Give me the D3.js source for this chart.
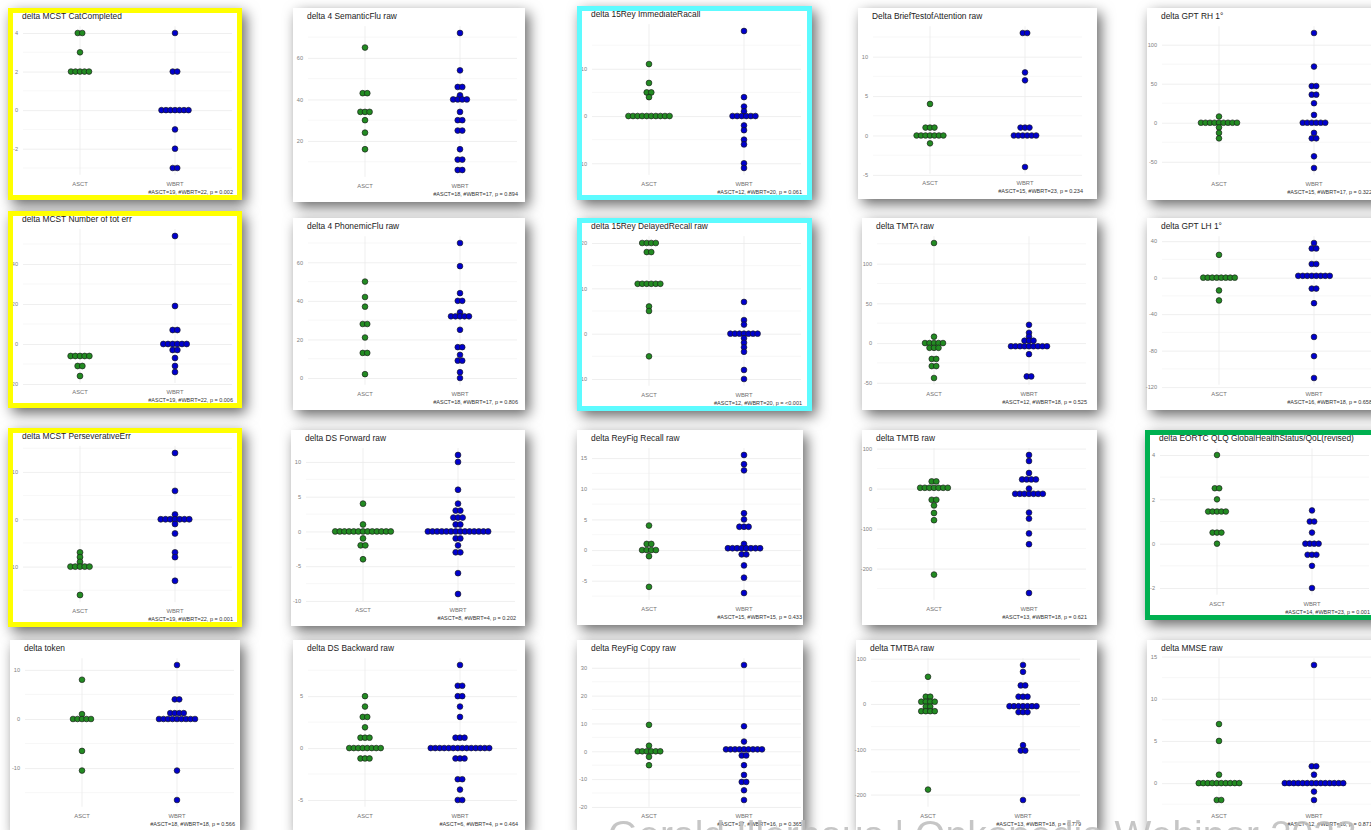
<!DOCTYPE html>
<html>
<head>
<meta charset="utf-8">
<script src="https://cdn.jsdelivr.net/npm/d3@7"></script>
<style>
  body { margin: 0; background: #ffffff; }
  svg { display: block; font-family: "Liberation Sans", Arial, sans-serif; }
</style>
</head>
<body>
<svg id="board" width="1371" height="830"></svg>
<script>
// ---- data -------------------------------------------------------------
const groups = ["ASCT", "WBRT"];

const titles = [
  "delta MCST CatCompleted", "delta 4 SemanticFlu raw", "delta 15Rey ImmediateRacall", "Delta BriefTestofAttention raw", "delta GPT RH 1°",
  "delta MCST Number of tot err", "delta 4 PhonemicFlu raw", "delta 15Rey DelayedRecall raw", "delta TMTA raw", "delta GPT LH 1°",
  "delta MCST PerseverativeErr", "delta DS Forward raw", "delta ReyFig Recall raw", "delta TMTB raw", "delta EORTC QLQ GlobalHealthStatus/QoL(revised)",
  "delta token", "delta DS Backward raw", "delta ReyFig Copy raw", "delta TMTBA raw", "delta MMSE raw"
];

const notes = [
  "#ASCT=19, #WBRT=22, p = 0.002", "#ASCT=18, #WBRT=17, p = 0.894", "#ASCT=12, #WBRT=20, p = 0.061", "#ASCT=15, #WBRT=23, p = 0.234", "#ASCT=15, #WBRT=17, p = 0.322",
  "#ASCT=19, #WBRT=22, p = 0.006", "#ASCT=18, #WBRT=17, p = 0.806", "#ASCT=12, #WBRT=20, p = <0.001", "#ASCT=12, #WBRT=18, p = 0.525", "#ASCT=16, #WBRT=18, p = 0.658",
  "#ASCT=19, #WBRT=22, p = 0.001", "#ASCT=8, #WBRT=4, p = 0.202", "#ASCT=15, #WBRT=15, p = 0.433", "#ASCT=13, #WBRT=18, p = 0.621", "#ASCT=14, #WBRT=23, p = 0.001",
  "#ASCT=18, #WBRT=18, p = 0.566", "#ASCT=6, #WBRT=4, p = 0.464", "#ASCT=17, #WBRT=16, p = 0.365", "#ASCT=13, #WBRT=18, p = 0.779", "#ASCT=12, #WBRT=16, p = 0.871"
];

const yTicks = [
  [-2, 0, 2, 4], [20, 40, 60], [-10, 0, 10], [-5, 0, 5, 10], [-50, 0, 50, 100],
  [-20, 0, 20, 40], [0, 20, 40, 60], [-10, 0, 10, 20], [-50, 0, 50, 100], [-120, -80, -40, 0, 40],
  [-10, 0, 10], [-10, -5, 0, 5, 10], [-5, 0, 5, 10, 15], [-200, -100, 0, 100], [-2, 0, 2, 4],
  [-10, 0, 10], [-5, 0, 5], [-20, -10, 0, 10, 20, 30], [-200, -100, 0, 100], [0, 5, 10, 15]
];

const asctValues = [
  [4, 4, 3, 2, 2, 2, 2, 2],
  [65, 43, 43, 34, 34, 34, 30, 24, 16],
  [11, 7, 5, 5, 4, 0, 0, 0, 0, 0, 0, 0, 0, 0, 0],
  [4, 1, 1, 1, 0, 0, 0, 0, 0, 0, 0, -1],
  [8, 0, 0, 0, 0, 0, 0, 0, 0, 0, -6, -13, -20],
  [-6, -6, -6, -6, -6, -11, -11, -16],
  [50, 42, 37, 28, 28, 21, 13, 13, 2],
  [20, 20, 20, 20, 18, 18, 11, 11, 11, 11, 11, 11, 6, 5, -5],
  [126, 8, 0, 0, 0, 0, 0, -6, -6, -6, -20, -20, -29, -29, -44],
  [25, 0, 0, 0, 0, 0, 0, 0, 0, -14, -25],
  [-7, -8, -9, -10, -10, -10, -10, -10, -16],
  [4, 1, 0, 0, 0, 0, 0, 0, 0, 0, 0, 0, 0, 0, 0, -1, -2, -2, -4],
  [4, 1, 1, 0, 0, 0, 0, -1, -6],
  [18, 18, 2, 2, 2, 2, 2, 2, 2, -28, -28, -42, -61, -79, -215],
  [4, 2.5, 2.5, 2, 1.45, 1.45, 1.45, 1.45, 1.45, 0.5, 0.5, 0.5, 0],
  [8, 1, 0, 0, 0, 0, 0, -6.5, -10.5],
  [5, 4, 3, 3, 2, 1, 1, 1, 0, 0, 0, 0, 0, 0, 0, 0, -1, -1, -1],
  [9.5, 2, 0, 0, 0, 0, 0, 0, -2, -5],
  [60, 16, 16, 5, 5, 5, 5, -6, -6, -16, -16, -16, -16, -189],
  [7, 5, 1, 0, 0, 0, 0, 0, 0, 0, 0, 0, 0, -2, -2]
];

const wbrtValues = [
  [4, 2, 2, 0, 0, 0, 0, 0, 0, 0, -1, -2, -3, -3],
  [72, 54, 46, 46, 42, 40, 40, 40, 40, 34, 30, 30, 25, 25, 16, 11, 11, 6, 6],
  [18, 4, 2, 1, 0, 0, 0, 0, 0, 0, -2, -3, -5, -6, -10, -11],
  [13, 13, 8, 7, 1, 1, 1, 0, 0, 0, 0, 0, 0, -4],
  [115, 72, 47, 47, 36, 36, 25, 10, 0, 0, 0, 0, 0, 0, -13, -20, -20, -43, -58],
  [54, 19, 7, 7, 0, 0, 0, 0, 0, 0, -3, -3, -7, -11, -14],
  [70, 58, 44, 40, 40, 34, 32, 32, 32, 32, 32, 25, 16, 16, 12, 9, 9, 3, 0],
  [7, 3, 2, 0, 0, 0, 0, 0, 0, 0, -1, -2, -3, -4, -8, -10],
  [23, 13, 8, 3, 3, 3, -4, -4, -4, -4, -4, -4, -4, -4, -4, -14, -42, -42],
  [38, 32, 32, 15, 15, 2, 2, 2, 2, 2, 2, 2, 2, -12, -12, -28, -65, -86, -110],
  [14, 6, 1, 0, 0, 0, 0, 0, 0, 0, -1, -3, -7, -8, -13],
  [11, 10, 6, 4, 3, 3, 2, 2, 2, 1, 1, 0, 0, 0, 0, 0, 0, 0, 0, 0, 0, 0, 0, 0, 0, -1, -1, -2, -3, -3, -6, -9],
  [15.5, 14, 13, 6, 5, 3.8, 3.8, 3.8, 1, 0.3, 0.3, 0.3, 0.3, 0.3, 0.3, 0.3, 0.3, -0.7, -0.7, -2.5, -4.5, -7],
  [84, 69, 39, 23, 23, 23, 23, 0, -13, -13, -13, -13, -13, -13, -13, -60, -75, -112, -139, -261],
  [1.5, 1, 1, 0.5, 0, 0, 0, 0, -0.5, -0.5, -0.5, -1, -2],
  [11, 4, 4, 1.2, 1.2, 1.2, 1.2, 0, 0, 0, 0, 0, 0, 0, 0, 0, -10.5, -16.5],
  [8, 6, 6, 5, 5, 4, 3, 1, 1, 1, 0, 0, 0, 0, 0, 0, 0, 0, 0, 0, 0, 0, 0, 0, -1, -1, -1, -3, -3, -4, -5, -5],
  [31, 9, 3.5, 0.7, 0.7, 0.7, 0.7, 0.7, 0.7, 0.7, 0.7, 0.7, -1.5, -1.5, -5, -8.5, -11, -11, -14, -17.5],
  [86, 71, 41, 41, 16, 16, 16, -5, -5, -5, -5, -5, -5, -5, -18, -18, -18, -91, -103, -103, -212],
  [14, 2, 2, 1, 0, 0, 0, 0, 0, 0, 0, 0, 0, 0, 0, 0, 0, 0, -1, -2]
];

// frame colour of emphasised panels (null = plain card)
const frames = [
  "#ffff00", null, "#5dfbff", null, null,
  "#ffff00", null, "#5dfbff", null, null,
  "#ffff00", null, null, null, "#00b050",
  null, null, null, null, null
];

const groupColors = { ASCT: "#228b22", WBRT: "#0000cd" };

// ---- card placement: [x, y, width, height] --------------------------------
const layout = [
  [8, 8, 234, 192], [293, 8, 232, 194], [577, 6, 235, 194], [858, 8, 239, 191], [1147, 8, 240, 192],
  [8, 211, 234, 197], [293, 218, 232, 192], [577, 218, 235, 193], [862, 218, 235, 192], [1147, 218, 240, 192],
  [8, 428, 234, 199], [291, 430, 234, 196], [577, 430, 226, 195], [862, 430, 235, 195], [1145, 430, 240, 190],
  [10, 640, 230, 192], [293, 640, 232, 192], [577, 640, 226, 192], [856, 640, 241, 192], [1147, 640, 240, 192]
];

const svg = d3.select("#board");
const defs = svg.append("defs");
const shadow = defs.append("filter").attr("id", "cardShadow")
  .attr("x", "-20%").attr("y", "-20%").attr("width", "150%").attr("height", "150%");
shadow.append("feDropShadow")
  .attr("dx", 4).attr("dy", 5).attr("stdDeviation", 7)
  .attr("flood-color", "#000").attr("flood-opacity", 0.6);

const FONT = "'Liberation Sans', Arial, sans-serif";

titles.forEach((title, i) => {
  const [px, py, pw, ph] = layout[i];
  const g = svg.append("g").attr("transform", `translate(${px},${py})`);

  g.append("rect").attr("width", pw).attr("height", ph)
    .attr("fill", "#fff").attr("filter", "url(#cardShadow)");

  // vertical extent of the dot cloud, then 5% expansion like ggplot
  const dotTop = 25, dotBot = ph - 32;
  const span = dotBot - dotTop;
  const all = asctValues[i].concat(wbrtValues[i]);
  const lo = d3.min(all), hi = d3.max(all);
  const ext = (hi - lo) * 0.05;
  const y = d3.scaleLinear()
    .domain([lo - ext, hi + ext])
    .range([dotBot + span * 0.05, dotTop - span * 0.05]);
  const x = d3.scalePoint().domain(groups).range([15, 224]).padding(0.6);
  const [plotBot, plotTop] = y.range();

  // minor horizontal grid
  const t = yTicks[i];
  const step = t[1] - t[0];
  const [d0, d1] = y.domain();
  const minor = d3.range(t[0] - step / 2, t[t.length - 1] + step, step)
    .filter(v => v >= d0 && v <= d1);
  g.append("g").selectAll("line").data(minor).join("line")
    .attr("x1", 15).attr("x2", 224)
    .attr("y1", d => y(d)).attr("y2", d => y(d))
    .attr("stroke", "#f2f2f2").attr("stroke-width", 0.6);

  // major grid + tick labels
  const ax = g.append("g").attr("transform", "translate(15,0)")
    .call(d3.axisLeft(y).tickValues(t).tickSize(-209).tickPadding(5).tickFormat(d => String(d)));
  ax.select(".domain").remove();
  ax.selectAll("line").attr("stroke", "#ebebeb").attr("stroke-width", 0.8);
  ax.selectAll("text").attr("font-size", 5.6).attr("fill", "#808080").attr("font-family", FONT);

  // vertical grid at each group
  g.append("g").selectAll("line").data(groups).join("line")
    .attr("x1", d => x(d)).attr("x2", d => x(d))
    .attr("y1", plotTop).attr("y2", plotBot)
    .attr("stroke", "#ebebeb").attr("stroke-width", 0.8);

  // group labels
  g.append("g").selectAll("text").data(groups).join("text")
    .attr("x", d => x(d)).attr("y", ph - 14)
    .attr("text-anchor", "middle").attr("font-size", 5.8)
    .attr("fill", "#707070").attr("font-family", FONT)
    .text(d => d);

  // dots: identical values stack side by side, centred on the group
  const diam = span / 30;
  const r = diam / 2 + 0.6;
  const series = { ASCT: asctValues[i], WBRT: wbrtValues[i] };
  const dots = [];
  groups.forEach(grp => {
    const bins = d3.rollups(series[grp], v => v.length, v => v);
    bins.forEach(([val, n]) => {
      for (let k = 0; k < n; k++) {
        dots.push({ grp, val, off: (k - (n - 1) / 2) * diam });
      }
    });
  });
  g.append("g").selectAll("circle").data(dots).join("circle")
    .attr("cx", d => x(d.grp) + d.off)
    .attr("cy", d => y(d.val))
    .attr("r", r)
    .attr("fill", d => groupColors[d.grp])
    .attr("stroke", "#1b1b1b").attr("stroke-width", 0.65);

  // title and test note
  g.append("text").attr("x", 14).attr("y", 11)
    .attr("font-size", 8.4).attr("fill", "#222").attr("font-family", FONT)
    .text(title);
  g.append("text").attr("x", 225).attr("y", ph - 6)
    .attr("text-anchor", "end").attr("font-size", 5.5)
    .attr("fill", "#333").attr("font-family", FONT)
    .text(notes[i]);

  if (frames[i]) {
    g.append("rect").attr("x", 2.5).attr("y", 2.5)
      .attr("width", pw - 5).attr("height", ph - 5)
      .attr("fill", "none").attr("stroke", frames[i]).attr("stroke-width", 5);
  }
});

// presenter credit running along the bottom edge
svg.append("text")
  .attr("x", 608).attr("y", 848)
  .attr("font-size", 39).attr("font-family", FONT)
  .attr("fill", "#bdbdbd").attr("opacity", 0.85)
  .text("Gerald Illerhaus | Onkopedia Webinar 2023");
</script>
</body>
</html>
